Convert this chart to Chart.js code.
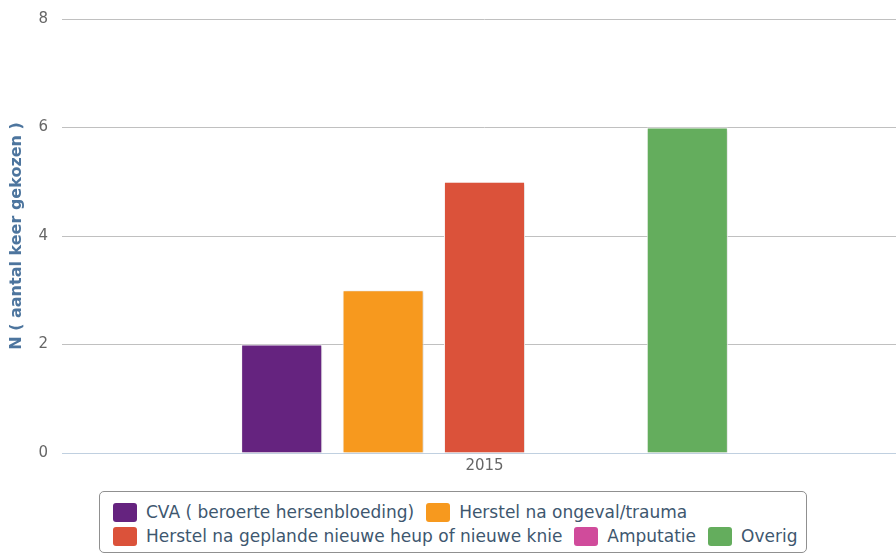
<!DOCTYPE html>
<html>
<head>
<meta charset="utf-8">
<script src="https://cdn.jsdelivr.net/npm/chart.js@4.4.0/dist/chart.umd.min.js"></script>
<style>
  html, body { margin: 0; padding: 0; background: #fff; overflow: hidden; }
  #wrap { position: relative; width: 896px; height: 554px; overflow: hidden; }
  #mycanvas { position: absolute; left: 0; top: -4px; }
  #legend {
    position: absolute; left: 99px; top: 491px; width: 708px; height: 62px;
    border: 1px solid #909090; border-radius: 5px; box-sizing: border-box;
    padding: 8px 0 0 13px; display: flex; flex-wrap: wrap; align-content: flex-start;
    font-family: "DejaVu Sans", sans-serif; font-size: 17px; color: #3e576f;
  }
  .item { display: flex; align-items: center; height: 24px; margin-right: 12px; white-space: nowrap; }
  .item:last-child { margin-right: 0; }
  .box { width: 24px; height: 19px; border-radius: 3px; margin-right: 9px; }
</style>
</head>
<body>
<div id="wrap">
  <canvas id="mycanvas"></canvas>
  <div id="legend"></div>
</div>
<script>
var categories = ["2015"];
var seriesNames = [
  "CVA ( beroerte hersenbloeding)",
  "Herstel na ongeval/trauma",
  "Herstel na geplande nieuwe heup of nieuwe knie",
  "Amputatie",
  "Overig"
];
var seriesValues = [2, 3, 5, 0, 6];
var seriesColors = ["#65237f", "#f7991e", "#db523a", "#d04b9b", "#64ad5d"];
var yTicks = [0, 2, 4, 6, 8];
var yTitle = "N ( aantal keer gekozen )";

var datasets = [];
for (var i in seriesNames) {
  datasets.push({
    label: seriesNames[i],
    data: [seriesValues[i]],
    backgroundColor: seriesColors[i],
    borderColor: "#ffffff",
    borderWidth: 1,
    categoryPercentage: 0.6,
    barPercentage: 0.8
  });
}

// soft shadow like the original columns
var shadowPlugin = {
  id: "shadow",
  beforeDatasetsDraw: function(chart) {
    var ctx = chart.ctx;
    ctx.save();
    ctx.shadowColor = "rgba(0,0,0,0.18)";
    ctx.shadowOffsetX = 1;
    ctx.shadowOffsetY = 1;
    ctx.shadowBlur = 3;
  },
  afterDatasetsDraw: function(chart) {
    chart.ctx.restore();
  }
};

var canvas = document.getElementById("mycanvas");
canvas.width = 907;
canvas.height = 484;

var barGraph = new Chart(canvas, {
  type: "bar",
  data: { labels: categories, datasets: datasets },
  plugins: [shadowPlugin],
  options: {
    responsive: false,
    animation: false,
    layout: { padding: { top: 14, right: 0, bottom: 0, left: 0 } },
    plugins: { legend: { display: false }, tooltip: { enabled: false } },
    scales: {
      x: {
        grid: { display: false, drawTicks: false },
        border: { display: true, color: "#c0d0e0", width: 1 },
        ticks: { color: "#666666", padding: 4, font: { family: "DejaVu Sans", size: 15 } },
        afterFit: function(scale) { scale.height = 27; }
      },
      y: {
        min: 0,
        max: 8,
        afterBuildTicks: function(scale) {
          scale.ticks = yTicks.map(function(v) { return { value: v }; });
        },
        grid: {
          drawTicks: false,
          color: function(c) { return c.tick && c.tick.value === 0 ? "#c0d0e0" : "#c0c0c0"; }
        },
        border: { display: false },
        ticks: { color: "#666666", padding: 14, font: { family: "DejaVu Sans", size: 15 } },
        title: {
          display: true,
          text: yTitle,
          color: "#4d759e",
          padding: { top: 7, bottom: 0 },
          font: { family: "DejaVu Sans", size: 16, weight: "bold" }
        },
        afterFit: function(scale) { scale.width = 62; }
      }
    }
  }
});

// legend built from the chart datasets
var legend = document.getElementById("legend");
barGraph.data.datasets.forEach(function(ds) {
  var item = document.createElement("div");
  item.className = "item";
  var box = document.createElement("span");
  box.className = "box";
  box.style.background = ds.backgroundColor;
  var txt = document.createElement("span");
  txt.textContent = ds.label;
  item.appendChild(box);
  item.appendChild(txt);
  legend.appendChild(item);
});
</script>
</body>
</html>
